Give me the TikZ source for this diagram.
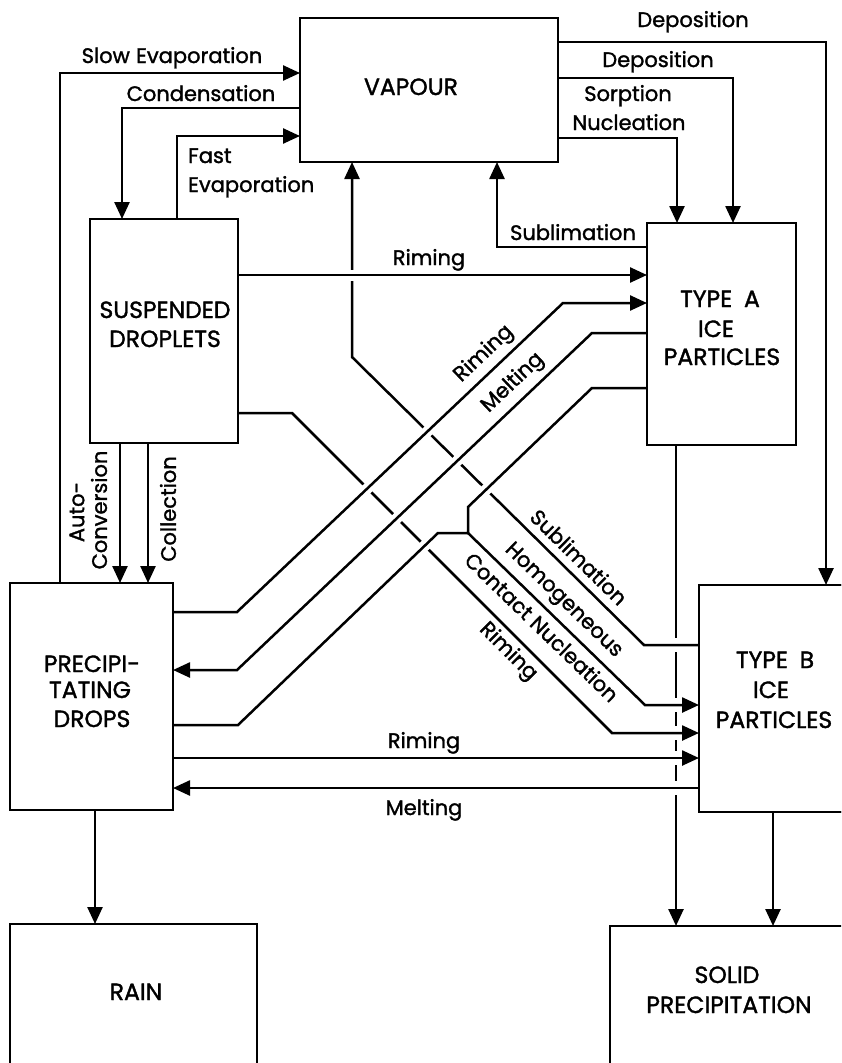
\documentclass[tikz,border=0pt]{standalone}
\usepackage{fontspec}
\setmainfont{Poppins}[FakeBold=1.4]
\usetikzlibrary{arrows.meta,calc,fit}
\begin{document}
\begin{tikzpicture}[x=1pt,y=-1pt,
  box/.style={draw, line width=2.8pt, inner sep=0pt, outer sep=0pt},
  conn/.style={line width=2.5pt},
  flow/.style={conn, -{Triangle[length=17pt,width=15pt]}},
  over/.style={preaction={draw=white, line width=11pt, -}},
  lbl/.style={font=\fontsize{21}{25}\selectfont, inner sep=0pt, anchor=base},
  rlbl/.style={font=\fontsize{21}{25}\selectfont, inner sep=0pt, anchor=center},
  btxt/.style={font=\fontsize{23.5}{28}\selectfont, inner sep=0pt, anchor=base}]
\useasboundingbox (0,0) rectangle (841,1063);
\clip (0,0) rectangle (841,1063);
\fill[white] (0,0) rectangle (841,1063);

% boxes (geometry)
\node[box, fit={(300,18) (558,162)}] (vapour) {};
\node[box, fit={(90,219) (238,443)}] (susp) {};
\node[box, fit={(647,223) (796,445)}] (typeA) {};
\node[box, fit={(10,583) (173,810)}] (precip) {};
\node[box, fit={(699,585) (880,812)}] (typeB) {};
\node[box, fit={(10,924) (257,1080)}] (rain) {};
\node[box, fit={(610,926) (880,1080)}] (solid) {};

% Type A -> solid precipitation (broken where it passes behind)
\coordinate (dA) at ($(typeA.south west)+(29,0)$);
\draw[conn] (dA) -- (676,638) (676,652) -- (676,698) (676,712) -- (676,726)
  (676,740) -- (676,751) (676,765) -- (676,781);
\draw[flow] (676,795) -- ($(solid.north west)+(66,0)$);

% under lines
\draw[flow] ($(typeB.north west)+(0,60)$) -- (644,645) -- (352,357) -- ($(vapour.south west)+(52,0)$);
\draw[flow] ($(susp.north east)+(0,194)$) -- (292,413) -- (612,733) -- ($(typeB.north west)+(0,148)$);

% over lines
\draw[flow,over] ($(susp.north east)+(0,56)$) -- ($(typeA.north west)+(0,52)$);
\draw[flow,over] ($(precip.north east)+(0,29)$) -- (237,612) -- (563,303) -- ($(typeA.north west)+(0,80)$);
\draw[flow,over] ($(typeA.north west)+(0,110)$) -- (592,333) -- (237,670) -- ($(precip.north east)+(0,87)$);
\coordinate (junc) at (468,533);
\draw[conn,over] ($(precip.north east)+(0,142)$) -- (238,725) -- (438,533) -- (junc) -- (468,507) -- (592,388) -- ($(typeA.north west)+(0,165)$);
\draw[flow] (junc) -- (645,705) -- ($(typeB.north west)+(0,120)$);

% vapour connections
\draw[flow] ($(precip.north west)+(50,0)$) |- ($(vapour.north west)+(0,55)$);
\draw[flow] ($(vapour.north west)+(0,90)$) -| ($(susp.north west)+(32,0)$);
\draw[flow] ($(susp.north west)+(87,0)$) |- ($(vapour.north west)+(0,118)$);
\draw[flow] ($(vapour.north east)+(0,24)$) -| ($(typeB.north west)+(127,0)$);
\draw[flow] ($(vapour.north east)+(0,60)$) -| ($(typeA.north west)+(86,0)$);
\draw[flow] ($(vapour.north east)+(0,120)$) -| ($(typeA.north west)+(30,0)$);
\draw[flow] ($(typeA.north west)+(0,24)$) -| ($(vapour.south west)+(197,0)$);

% droplets -> drops
\draw[flow] ($(susp.south west)+(30,0)$) -- ($(precip.north west)+(110,0)$);
\draw[flow] ($(susp.south west)+(58,0)$) -- ($(precip.north west)+(138,0)$);

% drops <-> type B
\draw[flow] ($(precip.north east)+(0,175)$) -- ($(typeB.north west)+(0,173)$);
\draw[flow] ($(typeB.north west)+(0,203)$) -- ($(precip.north east)+(0,205)$);

% to ground
\draw[flow] ($(precip.south west)+(85,0)$) -- ($(rain.north west)+(85,0)$);
\draw[flow] ($(typeB.south west)+(74,0)$) -- ($(solid.north west)+(163,0)$);

% redraw box borders
\draw[line width=2.8pt] (vapour.north west) rectangle (vapour.south east);
\draw[line width=2.8pt] (susp.north west) rectangle (susp.south east);
\draw[line width=2.8pt] (typeA.north west) rectangle (typeA.south east);
\draw[line width=2.8pt] (precip.north west) rectangle (precip.south east);
\draw[line width=2.8pt] (typeB.north west) rectangle (typeB.south east);

% box texts
\node[btxt] (t-vap) at (411,95) {VAPOUR};
\node[btxt] (t-s1) at (165,318) {SUSPENDED};
\node[btxt] (t-s2) at (165,347) {DROPLETS};
\node[btxt] (t-a1) at (720,307) {TYPE\hspace{0.5em}A};
\node[btxt] (t-a2) at (716,337) {ICE};
\node[btxt] (t-a3) at (722,365) {PARTICLES};
\node[btxt] (t-p1) at (92,672) {PRECIPI-};
\node[btxt] (t-p2) at (90,698) {TATING};
\node[btxt] (t-p3) at (92,727) {DROPS};
\node[btxt] (t-b1) at (775,668) {TYPE\hspace{0.5em}B};
\node[btxt] (t-b2) at (771,698) {ICE};
\node[btxt] (t-b3) at (774,728) {PARTICLES};
\node[btxt] (t-rain) at (136,1000) {RAIN};
\node[btxt] (t-sol1) at (727,983) {SOLID};
\node[btxt] (t-sol2) at (729,1013) {PRECIPITATION};

% labels
\node[lbl] (l-slow) at (172,63) {Slow\hspace{0.3em}Evaporation};
\node[lbl] (l-cond) at (201,101) {Condensation};
\node[lbl, anchor=base west] (l-fast1) at (188,163) {Fast};
\node[lbl, anchor=base west] (l-fast2) at (188,192) {Evaporation};
\node[lbl] (l-dep1) at (693,27) {Deposition};
\node[lbl] (l-dep2) at (658,67) {Deposition};
\node[lbl] (l-sorp1) at (628,101) {Sorption};
\node[lbl] (l-sorp2) at (629,130) {Nucleation};
\node[lbl] (l-subA) at (573,240) {Sublimation};
\node[lbl] (l-rimSA) at (429,265) {Riming};
\node[lbl] (l-rimPB) at (424,748) {Riming};
\node[lbl] (l-meltBP) at (424,815) {Melting};
\node[rlbl, rotate=43.5] (l-rimPA) at (484,354) {Riming};
\node[rlbl, rotate=43.5] (l-meltAP) at (513,383) {Melting};
\node[rlbl, rotate=-44.5] (l-subB) at (579,557) {Sublimation};
\node[rlbl, rotate=-44] (l-hom) at (563,601) {Homogeneous};
\node[rlbl, rotate=-44] (l-cont) at (542,627) {Contact Nucleation};
\node[rlbl, rotate=-45] (l-rimSB) at (508,652) {Riming};
\node[rlbl, rotate=90] (l-auto1) at (77,512) {Auto-};
\node[rlbl, rotate=90] (l-auto2) at (99,510) {Conversion};
\node[rlbl, rotate=90] (l-coll) at (168,509) {Collection};
\end{tikzpicture}
\end{document}
